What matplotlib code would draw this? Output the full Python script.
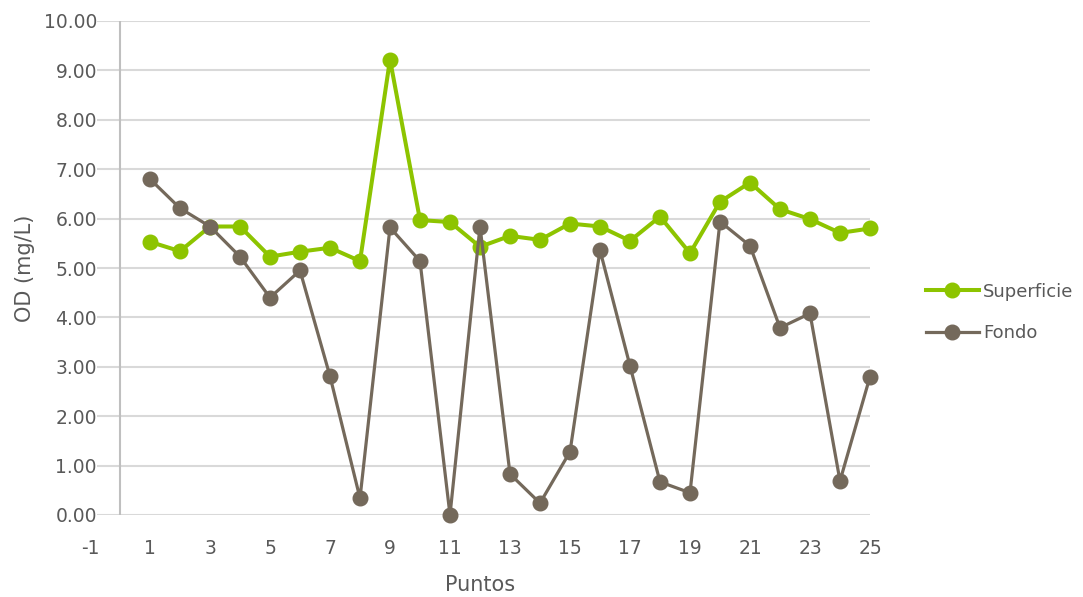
import matplotlib as mpl
from matplotlib import pyplot as plt

mpl.rcParams['font.family'] = ['DejaVu Sans']

puntos = list(range(1, 26))
superficie = [5.53, 5.34, 5.84, 5.84, 5.23, 5.33, 5.41, 5.14, 9.22, 5.97,
              5.93, 5.43, 5.65, 5.57, 5.90, 5.84, 5.55, 6.04, 5.30, 6.34,
              6.73, 6.19, 5.99, 5.71, 5.80]
fondo = [6.80, 6.21, 5.84, 5.23, 4.40, 4.95, 2.81, 0.34, 5.82, 5.14,
         0.00, 5.84, 0.83, 0.24, 1.28, 5.36, 3.02, 0.67, 0.45, 5.94,
         5.45, 3.79, 4.08, 0.69, 2.80]
x_ticks = list(range(-1, 26, 2))
y_ticks = [0, 1, 2, 3, 4, 5, 6, 7, 8, 9, 10]

text_color = '#595959'
grid_color = '#D9D9D9'

fig = plt.figure(figsize=(10.83, 5.97), dpi=100)
ax = fig.add_axes([90 / 1083, 82 / 597, 780 / 1083, 494 / 597])

# gridlines start just right of the tick labels, vertical axis sits at x = 0
ax.hlines(y_ticks, -0.77, 25, color=grid_color, linewidth=1.5, zorder=1)
ax.axvline(0, color='#BFBFBF', linewidth=1.5, zorder=1)

ax.plot(puntos, superficie, color='#8DC400', linewidth=2.9, marker='o',
        markersize=10.5, label='Superficie', zorder=3, clip_on=False)
ax.plot(puntos, fondo, color='#74695B', linewidth=2.3, marker='o',
        markersize=10.5, label='Fondo', zorder=4, clip_on=False)

ax.set_xlim(-1, 25)
ax.set_ylim(0, 10)
ax.set_xticks(x_ticks, [str(t) for t in x_ticks])
ax.set_yticks(y_ticks, [f'{t:.2f}' for t in y_ticks])
for s in ax.spines.values():
    s.set_visible(False)
ax.tick_params(axis='both', length=0, labelsize=13.5, colors=text_color)
ax.tick_params(axis='x', pad=17)
ax.tick_params(axis='y', pad=-5)

ax.set_xlabel('Puntos', fontsize=15, color=text_color, va='center')
ax.xaxis.set_label_coords(0.5, (515 - 585) / 494)
ax.set_ylabel('OD (mg/L)', fontsize=15, color=text_color, va='center')
ax.yaxis.set_label_coords((25 - 90) / 780, 0.5)

fig.legend(loc='center left', bbox_to_anchor=(910 / 1083, 1 - 312.5 / 597),
           frameon=False, fontsize=13, handlelength=2.9, labelspacing=1.3,
           labelcolor=text_color, handletextpad=0.25)

fig.savefig('out.png', dpi=100)
